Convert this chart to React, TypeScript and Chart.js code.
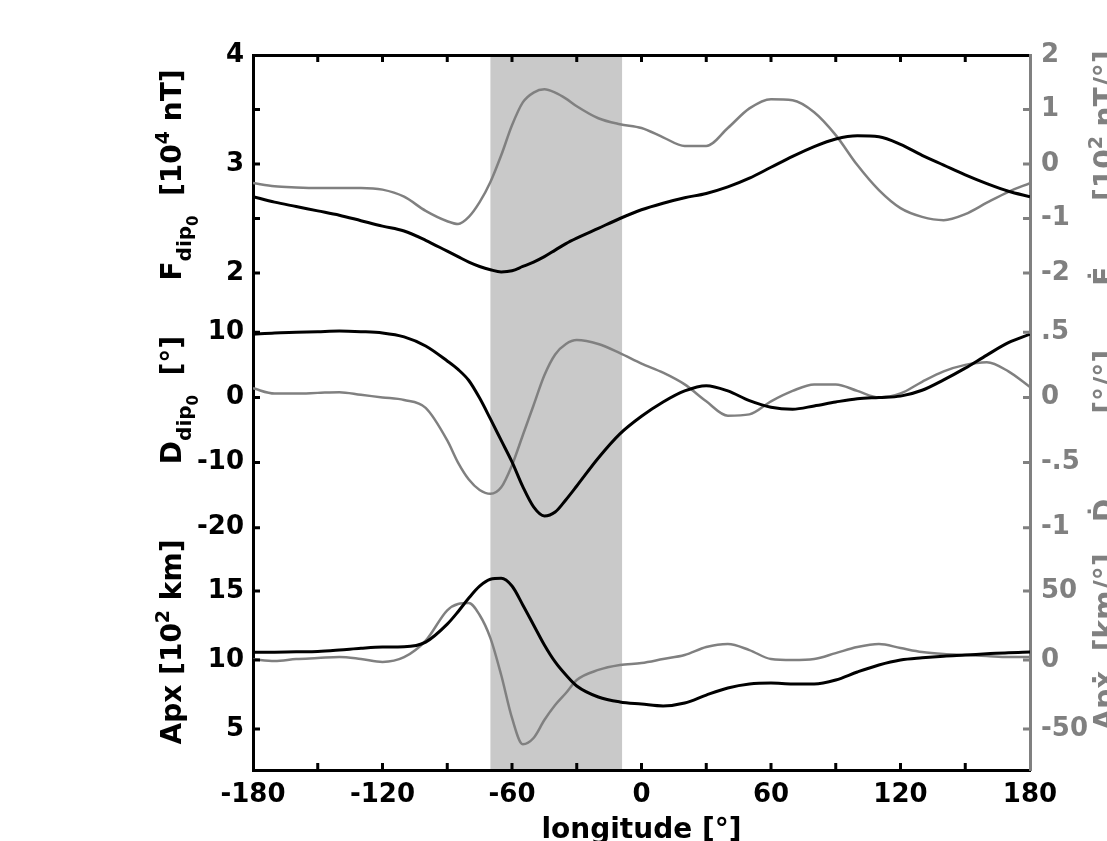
import React, { useEffect, useRef } from 'react';
import { Chart, registerables } from 'chart.js';

Chart.register(...registerables);

// ---------------- data ----------------
const LONGITUDE = [
  -180, -170, -160, -150, -140, -130, -120, -110, -100, -90,
  -85, -80, -75, -70, -65, -60, -55, -50, -45, -40, -35, -30,
  -20, -10, 0, 10, 20, 30, 40, 50, 60, 70, 80, 90, 100, 110, 120, 130, 140, 150, 160, 170, 180,
];

// F_dip0 [10^4 nT] (black, left axis)
const F_DIP = [
  2.70, 2.65, 2.61, 2.57, 2.53, 2.48, 2.43, 2.385, 2.30, 2.20,
  2.15, 2.10, 2.06, 2.03, 2.01, 2.02, 2.06, 2.10, 2.15, 2.21, 2.27, 2.32,
  2.41, 2.50, 2.58, 2.64, 2.69, 2.73, 2.79, 2.87, 2.97, 3.07, 3.16, 3.23, 3.26, 3.25, 3.18, 3.08, 2.99, 2.90, 2.82, 2.75, 2.70,
];
// dF_dip0 / dlon [10^2 nT/°] (gray, right axis)
const F_DIP_RATE = [
  -0.35, -0.41, -0.43, -0.44, -0.44, -0.44, -0.47, -0.60, -0.86, -1.05,
  -1.10, -0.97, -0.70, -0.33, 0.16, 0.71, 1.13, 1.31, 1.37, 1.31, 1.20, 1.06,
  0.84, 0.73, 0.66, 0.49, 0.33, 0.33, 0.66, 1.02, 1.19, 1.17, 0.95, 0.53, -0.02, -0.48, -0.81, -0.97, -1.03, -0.92, -0.71, -0.51, -0.35,
];
// D_dip0 [°] (black, left axis)
const D_DIP = [
  9.7, 9.9, 10.0, 10.1, 10.2, 10.1, 9.9, 9.3, 7.9, 5.6,
  4.3, 2.6, -0.1, -3.3, -6.6, -9.9, -13.7, -16.8, -18.2, -17.6, -15.7, -13.6,
  -9.3, -5.6, -2.9, -0.7, 1.0, 1.8, 1.0, -0.5, -1.5, -1.8, -1.3, -0.7, -0.2, 0.0, 0.2, 1.1, 2.7, 4.5, 6.5, 8.4, 9.7,
];
// dD_dip0 / dlon [°/°] (gray, right axis)
const D_DIP_RATE = [
  0.07, 0.03, 0.03, 0.035, 0.04, 0.02, 0.0, -0.02, -0.08, -0.33,
  -0.50, -0.63, -0.71, -0.74, -0.69, -0.52, -0.29, -0.06, 0.17, 0.33, 0.41, 0.44,
  0.41, 0.34, 0.26, 0.19, 0.10, -0.03, -0.14, -0.13, -0.03, 0.05, 0.10, 0.10, 0.05, 0.0, 0.03, 0.12, 0.20, 0.25, 0.27, 0.20, 0.08,
];
// Apx [10^2 km] (black, left axis)
const APX = [
  10.56, 10.57, 10.6, 10.62, 10.72, 10.85, 10.94, 10.96, 11.3, 12.6,
  13.5, 14.49, 15.35, 15.85, 15.92, 15.36, 13.99, 12.54, 11.09, 9.86, 8.91, 8.12,
  7.32, 6.96, 6.81, 6.67, 6.88, 7.46, 7.97, 8.26, 8.33, 8.26, 8.26, 8.55, 9.13, 9.64, 10.0, 10.16, 10.28, 10.36, 10.45, 10.53, 10.58,
];
// dApx / dlon [km/°] (gray, right axis)
const APX_RATE = [
  0.5, -0.7, 0.7, 1.4, 2.2, 0.7, -1.4, 2.0, 14, 36,
  40.6, 41.3, 32.6, 15.9, -10.9, -42, -61, -56.5, -43.5, -32.6, -23.9, -14.5,
  -7.2, -3.6, -2.2, 0.7, 3.6, 9.4, 11.6, 7.2, 0.7, 0, 0.7, 5, 9.4, 11.6, 8.7, 5.8, 4.3, 3.6, 2.9, 2.2, 2.2,
];

const SHADED_LON = [-70, -9];

// tick values and labels
const F_TICKS = [4, 3.5, 3, 2.5, 2];
const F_LABELS = ['4', '', '3', '', '2'];
const D_TICKS = [10, 0, -10, -20];
const D_LABELS = ['10', '0', '-10', '-20'];
const APX_TICKS = [15, 10, 5];
const APX_LABELS = ['15', '10', '5'];
const F_RATE_TICKS = [2, 1, 0, -1, -2];
const F_RATE_LABELS = ['2', '1', '0', '-1', '-2'];
const D_RATE_TICKS = [0.5, 0, -0.5, -1];
const D_RATE_LABELS = ['.5', '0', '-.5', '-1'];
const APX_RATE_TICKS = [50, 0, -50];
const APX_RATE_LABELS = ['50', '0', '-50'];

// axis ranges (each panel's axis spans the full plot height)
const RANGE_F = [-2.5596, 4];
const RANGE_F_RATE = [-11.119, 2];
const RANGE_D = [-57.201, 52.574];
const RANGE_D_RATE = [-2.86, 2.6287];
const RANGE_APX = [2.029, 53.841];
const RANGE_APX_RATE = [-79.71, 438.41];

// axis titles (rich text parts: text, size, baseline shift)
type Part = { t: string; s: number; dy: number };
const TITLE_F: Part[] = [
  { t: 'F', s: 28, dy: 0 }, { t: 'dip', s: 20, dy: 10 }, { t: '0', s: 15, dy: 17 },
  { t: '  [10', s: 28, dy: 0 }, { t: '4', s: 19, dy: -12 }, { t: ' nT]', s: 28, dy: 0 },
];
const TITLE_D: Part[] = [
  { t: 'D', s: 28, dy: 0 }, { t: 'dip', s: 20, dy: 10 }, { t: '0', s: 15, dy: 17 },
  { t: '  [°]', s: 28, dy: 0 },
];
const TITLE_APX: Part[] = [
  { t: 'Apx [10', s: 28, dy: 0 }, { t: '2', s: 19, dy: -12 }, { t: ' km]', s: 28, dy: 0 },
];
const TITLE_F_RATE: Part[] = [
  { t: 'Ḟ', s: 28, dy: 0 }, { t: 'dip', s: 20, dy: 10 }, { t: '0', s: 15, dy: 17 },
  { t: '  [10', s: 28, dy: 0 }, { t: '2', s: 19, dy: -12 }, { t: ' nT/°]', s: 28, dy: 0 },
];
const TITLE_D_RATE: Part[] = [
  { t: 'Ḋ', s: 28, dy: 0 }, { t: 'dip', s: 20, dy: 10 }, { t: '0', s: 15, dy: 17 },
  { t: '    [°/°]', s: 28, dy: 0 },
];
const TITLE_APX_RATE: Part[] = [{ t: 'Apẋ  [km/°]', s: 28, dy: 0 }];

// ---------------- styling ----------------
const FONT = 'DejaVu Sans';
const GRAY = '#808080';
const BAND = '#c9c9c9';

const conv = (v: number, from: number[], to: number[]) =>
  to[0] + ((v - from[0]) / (from[1] - from[0])) * (to[1] - to[0]);

function buildTicks(groups: { ticks: number[]; labels: string[]; range: number[] }[], target: number[]) {
  const out: any[] = [];
  groups.forEach((g) =>
    g.ticks.forEach((v, i) => out.push({ value: conv(v, g.range, target), lbl: g.labels[i] }))
  );
  return out;
}

function drawRich(ctx: CanvasRenderingContext2D, parts: Part[], bx: number, cy: number, color: string) {
  ctx.save();
  ctx.translate(bx, cy);
  ctx.rotate(-Math.PI / 2);
  ctx.fillStyle = color;
  ctx.textBaseline = 'alphabetic';
  ctx.textAlign = 'left';
  let total = 0;
  const ws = parts.map((p) => {
    ctx.font = `bold ${p.s}px '${FONT}'`;
    const w = ctx.measureText(p.t).width;
    total += w;
    return w;
  });
  let x = -total / 2;
  parts.forEach((p, i) => {
    ctx.font = `bold ${p.s}px '${FONT}'`;
    ctx.fillText(p.t, x, p.dy);
    x += ws[i];
  });
  ctx.restore();
}

const decorations = {
  id: 'decorations',
  beforeDraw(chart: any) {
    const { ctx, chartArea: a, scales } = chart;
    const x0 = scales.x.getPixelForValue(SHADED_LON[0]);
    const x1 = scales.x.getPixelForValue(SHADED_LON[1]);
    ctx.save();
    ctx.fillStyle = BAND;
    ctx.fillRect(x0, a.top, x1 - x0, a.bottom - a.top);
    ctx.restore();
  },
  afterDraw(chart: any) {
    const { ctx, chartArea: a, scales } = chart;
    const L = 7;
    ctx.save();
    ctx.lineWidth = 3;
    ctx.strokeStyle = '#000';
    ctx.beginPath();
    scales.yF.ticks.forEach((t: any) => {
      const y = scales.yF.getPixelForValue(t.value);
      if (y < a.top + 2 || y > a.bottom - 2) return;
      ctx.moveTo(a.left, y);
      ctx.lineTo(a.left + L, y);
    });
    scales.x.ticks.forEach((t: any) => {
      const x = scales.x.getPixelForValue(t.value);
      if (x < a.left + 2 || x > a.right - 2) return;
      ctx.moveTo(x, a.bottom);
      ctx.lineTo(x, a.bottom - L);
      ctx.moveTo(x, a.top);
      ctx.lineTo(x, a.top + L);
    });
    ctx.stroke();
    ctx.strokeStyle = GRAY;
    ctx.beginPath();
    scales.yFr.ticks.forEach((t: any) => {
      const y = scales.yFr.getPixelForValue(t.value);
      if (y < a.top + 2 || y > a.bottom - 2) return;
      ctx.moveTo(a.right, y);
      ctx.lineTo(a.right - L, y);
    });
    ctx.stroke();
    ctx.restore();

    drawRich(ctx, TITLE_F, 181, 175, '#000');
    drawRich(ctx, TITLE_D, 181, 400, '#000');
    drawRich(ctx, TITLE_APX, 181, 642, '#000');
    drawRich(ctx, TITLE_F_RATE, 1114, 168, GRAY);
    drawRich(ctx, TITLE_D_RATE, 1114, 436, GRAY);
    drawRich(ctx, TITLE_APX_RATE, 1114, 642, GRAY);
  },
};

const pts = (vals: number[]) => LONGITUDE.map((x, i) => ({ x, y: vals[i] }));

const tickFont = { family: FONT, size: 26, weight: 'bold' as const };

export default function App() {
  const ref = useRef<HTMLCanvasElement | null>(null);

  useEffect(() => {
    if (!ref.current) return;
    const line = (vals: number[], axis: string, color: string, width: number) => ({
      data: pts(vals),
      xAxisID: 'x',
      yAxisID: axis,
      borderColor: color,
      borderWidth: width,
      pointRadius: 0,
      fill: false,
      cubicInterpolationMode: 'monotone' as const,
    });
    const hidden = (r: number[]) => ({ type: 'linear' as const, display: false, min: r[0], max: r[1], bounds: 'data' as const });

    const chart = new Chart(ref.current, {
      type: 'line',
      data: {
        datasets: [
          line(F_DIP, 'yF', '#000', 3),
          line(D_DIP, 'yD', '#000', 3),
          line(APX, 'yA', '#000', 3),
          line(F_DIP_RATE, 'yFr', GRAY, 2.5),
          line(D_DIP_RATE, 'yDr', GRAY, 2.5),
          line(APX_RATE, 'yAr', GRAY, 2.5),
        ] as any,
      },
      options: {
        animation: false,
        responsive: false,
        events: [],
        layout: { padding: 0 },
        plugins: { legend: { display: false }, tooltip: { enabled: false } },
        scales: {
          x: {
            type: 'linear',
            position: 'bottom',
            min: -180,
            max: 180,
            bounds: 'data',
            ticks: {
              stepSize: 30,
              autoSkip: false,
              maxRotation: 0,
              padding: 10,
              color: '#000',
              font: tickFont,
              callback: (v: any) => (Number(v) % 60 === 0 ? String(v) : ''),
            },
            grid: { display: false, drawTicks: false },
            border: { display: true, color: '#000', width: 3 },
            title: {
              display: true,
              text: 'longitude [°]',
              color: '#000',
              font: { family: FONT, size: 28, weight: 'bold' },
              padding: { top: 0, bottom: -7 },
            },
            afterFit: (s: any) => { s.height = 71; },
          },
          xTop: {
            type: 'linear',
            position: 'top',
            min: -180,
            max: 180,
            ticks: { display: false },
            grid: { display: false, drawTicks: false },
            border: { display: true, color: '#000', width: 3 },
            afterFit: (s: any) => { s.height = 55; },
          },
          yF: {
            type: 'linear',
            position: 'left',
            min: RANGE_F[0],
            max: RANGE_F[1],
            bounds: 'data',
            afterBuildTicks: (s: any) => {
              s.ticks = buildTicks(
                [
                  { ticks: F_TICKS, labels: F_LABELS, range: RANGE_F },
                  { ticks: D_TICKS, labels: D_LABELS, range: RANGE_D },
                  { ticks: APX_TICKS, labels: APX_LABELS, range: RANGE_APX },
                ],
                RANGE_F
              );
            },
            ticks: {
              autoSkip: false,
              padding: 9,
              color: '#000',
              font: tickFont,
              callback: (_v: any, i: number, t: any[]) => t[i].lbl,
            },
            grid: { display: false, drawTicks: false },
            border: { display: true, color: '#000', width: 3 },
            afterFit: (s: any) => { s.width = 253; },
          },
          yFr: {
            type: 'linear',
            position: 'right',
            min: RANGE_F_RATE[0],
            max: RANGE_F_RATE[1],
            bounds: 'data',
            afterBuildTicks: (s: any) => {
              s.ticks = buildTicks(
                [
                  { ticks: F_RATE_TICKS, labels: F_RATE_LABELS, range: RANGE_F_RATE },
                  { ticks: D_RATE_TICKS, labels: D_RATE_LABELS, range: RANGE_D_RATE },
                  { ticks: APX_RATE_TICKS, labels: APX_RATE_LABELS, range: RANGE_APX_RATE },
                ],
                RANGE_F_RATE
              );
            },
            ticks: {
              autoSkip: false,
              padding: 11,
              color: GRAY,
              font: tickFont,
              callback: (_v: any, i: number, t: any[]) => t[i].lbl,
            },
            grid: { display: false, drawTicks: false },
            border: { display: true, color: GRAY, width: 3 },
            afterFit: (s: any) => { s.width = 77; },
          },
          yD: hidden(RANGE_D),
          yDr: hidden(RANGE_D_RATE),
          yA: hidden(RANGE_APX),
          yAr: hidden(RANGE_APX_RATE),
        } as any,
      },
      plugins: [decorations],
    });
    return () => chart.destroy();
  }, []);

  return (
    <div style={{ position: 'fixed', left: 0, top: 0, width: 1107, height: 841, background: '#fff' }}>
      <canvas ref={ref} width={1107} height={841} />
    </div>
  );
}
